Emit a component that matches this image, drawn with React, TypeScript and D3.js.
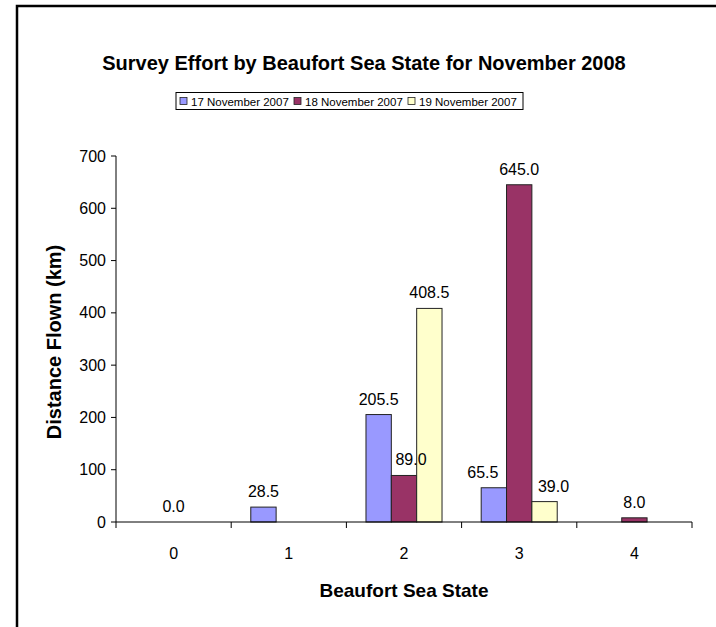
import React from 'react';
import * as d3 from 'd3';

// chart data
const categories = ['0', '1', '2', '3', '4'];
const seriesNames = ['17 November 2007', '18 November 2007', '19 November 2007'];
const nov17 = [null, 28.5, 205.5, 65.5, null];
const nov18 = [0.0, null, 89.0, 645.0, 8.0];
const nov19 = [null, null, 408.5, 39.0, null];
const yTicks = [0, 100, 200, 300, 400, 500, 600, 700];

const seriesValues = [nov17, nov18, nov19];
const colors = ['#9999FF', '#993366', '#FFFFCC'];

const W = 716;
const H = 627;
const margin = { top: 156, right: 24, bottom: 105, left: 116 };
const FONT = 'Arial, "Liberation Sans", Helvetica, sans-serif';

const App = () => {
    const plotW = W - margin.left - margin.right;
    const plotBottom = H - margin.bottom;

    const x0 = d3.scaleBand<string>()
        .domain(categories)
        .range([margin.left, margin.left + plotW])
        .paddingInner(0.34)
        .paddingOuter(0.17);

    const x1 = d3.scaleBand<string>()
        .domain(seriesNames)
        .range([0, x0.bandwidth()]);

    const y = d3.scaleLinear()
        .domain([0, 700])
        .range([plotBottom, margin.top]);

    const step = x0.step();
    const boundaries = d3.range(categories.length + 1).map(i => margin.left + i * step);

    // Excel-like nudge of labels that would sit on a taller neighbouring bar
    const nudge = (s: number, c: number) => {
        const v = seriesValues[s][c] ?? 0;
        const left = s > 0 ? seriesValues[s - 1][c] ?? 0 : 0;
        const right = s < seriesValues.length - 1 ? seriesValues[s + 1][c] ?? 0 : 0;
        const lt = left > v, rt = right > v;
        if (lt && rt) return 7;
        if (lt) return 9;
        if (rt) return -11;
        return 0;
    };

    return (
        <svg width={W} height={H} style={{ position: 'absolute', left: 0, top: 0, fontFamily: FONT }}>
            <rect x={0} y={0} width={W} height={H} fill="#fff" />
            {/* outer frame (cropped on right and bottom) */}
            <path d={`M17,${H} V6 H${W}`} fill="none" stroke="#000" strokeWidth={2.5} />

            <text x={364} y={70} textAnchor="middle" fontSize={20} fontWeight="bold">
                Survey Effort by Beaufort Sea State for November 2008
            </text>

            {/* legend */}
            <g>
                <rect x={176} y={92.5} width={347} height={17} fill="#fff" stroke="#000" strokeWidth={1} />
                {seriesNames.map((name, i) => {
                    const lx = 180 + i * 114;
                    return (
                        <g key={name}>
                            <rect x={lx} y={97.5} width={7} height={7} fill={colors[i]} stroke="#222" strokeWidth={0.8} />
                            <text x={lx + 11} y={105.5} fontSize={11.5}>{name}</text>
                        </g>
                    );
                })}
            </g>

            {/* bars */}
            {seriesValues.map((vals, s) =>
                vals.map((v, c) => v == null ? null : (
                    <rect key={`b${s}-${c}`}
                        x={x0(categories[c])! + x1(seriesNames[s])!}
                        y={y(v)}
                        width={x1.bandwidth()}
                        height={plotBottom - y(v)}
                        fill={colors[s]} stroke="#222" strokeWidth={1} />
                ))
            )}

            {/* value labels */}
            {seriesValues.map((vals, s) =>
                vals.map((v, c) => v == null ? null : (
                    <text key={`l${s}-${c}`}
                        x={x0(categories[c])! + x1(seriesNames[s])! + x1.bandwidth() / 2 + nudge(s, c)}
                        y={y(v) - 10}
                        textAnchor="middle" fontSize={16}>
                        {v.toFixed(1)}
                    </text>
                ))
            )}

            {/* y axis */}
            <line x1={margin.left} x2={margin.left} y1={margin.top} y2={plotBottom} stroke="#000" />
            {yTicks.map(t => (
                <g key={t}>
                    <line x1={margin.left - 5} x2={margin.left} y1={y(t)} y2={y(t)} stroke="#000" />
                    <text x={margin.left - 10} y={y(t) + 5.5} textAnchor="end" fontSize={16}>{t}</text>
                </g>
            ))}

            {/* x axis */}
            <line x1={margin.left} x2={margin.left + plotW} y1={plotBottom} y2={plotBottom} stroke="#000" />
            {boundaries.map((bx, i) => (
                <line key={i} x1={bx} x2={bx} y1={plotBottom} y2={plotBottom + 6} stroke="#000" />
            ))}
            {categories.map(c => (
                <text key={c} x={x0(c)! + x0.bandwidth() / 2} y={plotBottom + 37} textAnchor="middle" fontSize={16}>{c}</text>
            ))}

            <text x={margin.left + plotW / 2} y={597} textAnchor="middle" fontSize={19} fontWeight="bold">
                Beaufort Sea State
            </text>
            <text transform={`translate(61,342) rotate(-90)`} textAnchor="middle" fontSize={20} fontWeight="bold">
                Distance Flown (km)
            </text>
        </svg>
    );
};

export default App;
